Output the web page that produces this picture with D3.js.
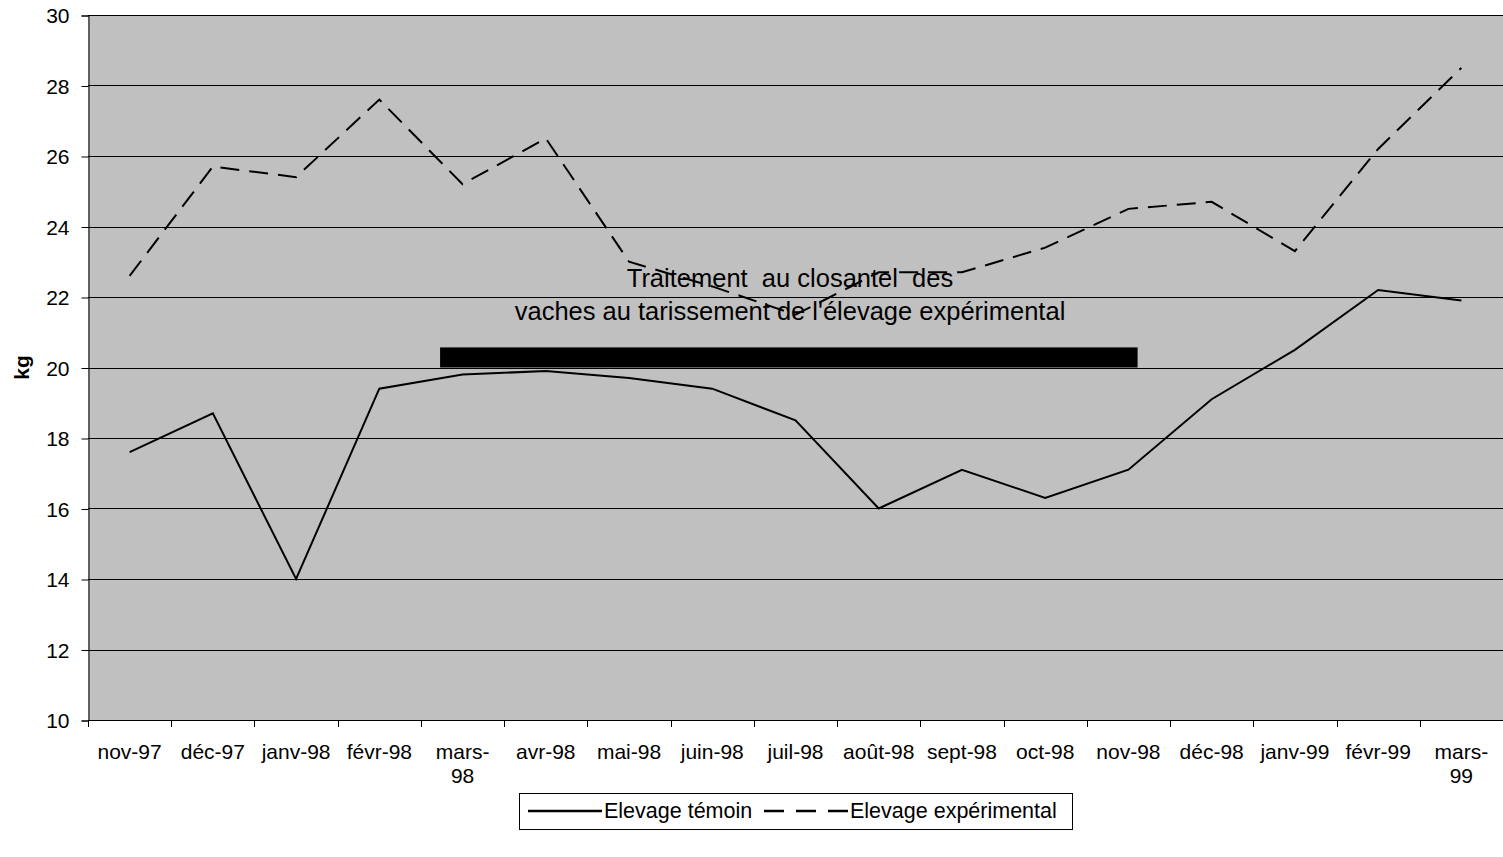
<!DOCTYPE html>
<html>
<head>
<meta charset="UTF-8">
<title>Elevage kg</title>
<script src="https://cdn.jsdelivr.net/npm/d3@7"></script>
<style>
body { margin: 0; background: #fff; }
svg text { font-family: "Liberation Sans", Arial, sans-serif; fill: #000; white-space: pre; }
</style>
</head>
<body>
<div id="vis"></div>
<script>
// months (x categories)
var months = ["nov-97", "déc-97", "janv-98", "févr-98", "mars-98", "avr-98", "mai-98", "juin-98",
  "juil-98", "août-98", "sept-98", "oct-98", "nov-98", "déc-98", "janv-99", "févr-99", "mars-99"];
// labels as excel wrapped them
var monthLabels = [["nov-97"], ["déc-97"], ["janv-98"], ["févr-98"], ["mars-", "98"], ["avr-98"], ["mai-98"], ["juin-98"],
  ["juil-98"], ["août-98"], ["sept-98"], ["oct-98"], ["nov-98"], ["déc-98"], ["janv-99"], ["févr-99"], ["mars-", "99"]];

var temoin = [17.6, 18.7, 14.0, 19.4, 19.8, 19.9, 19.7, 19.4, 18.5, 16.0, 17.1, 16.3, 17.1, 19.1, 20.5, 22.2, 21.9];
var experimental = [22.6, 25.7, 25.4, 27.6, 25.2, 26.5, 23.0, 22.3, 21.5, 22.7, 22.7, 23.4, 24.5, 24.7, 23.3, 26.2, 28.5];

var yTicks = [10, 12, 14, 16, 18, 20, 22, 24, 26, 28, 30];

// treatment period bar (in band units from the first month, and kg)
var treatFrom = 4.23, treatTo = 12.61;
var treatLow = 20, treatHigh = 20.57;
var treatText = ["Traitement  au closantel  des", "vaches au tarissement de l'élevage expérimental"];

var W = 1503, H = 857;
var margin = {top: 15, left: 88, right: 0, bottom: 137};

var svg = d3.select("#vis").append("svg")
  .attr("width", W)
  .attr("height", H);

var x = d3.scaleBand().domain(months).range([margin.left, W - margin.right]).padding(0);
var y = d3.scaleLinear().domain([10, 30]).range([H - margin.bottom, margin.top]);

// plot background
svg.append("rect")
  .attr("x", margin.left)
  .attr("y", y(30))
  .attr("width", W - margin.left)
  .attr("height", y(10) - y(30))
  .attr("fill", "#c0c0c0");

// gridlines
svg.selectAll(".grid")
  .data(yTicks.filter(function(d) { return d > 10; }))
  .enter().append("line")
  .attr("x1", margin.left)
  .attr("x2", W)
  .attr("y1", function(d) { return Math.round(y(d)) + 0.5; })
  .attr("y2", function(d) { return Math.round(y(d)) + 0.5; })
  .attr("stroke", "#000")
  .attr("stroke-width", 1);

// y axis
var yAxis = d3.axisLeft(y).tickValues(yTicks).tickSize(7).tickPadding(12);
var gy = svg.append("g")
  .attr("transform", "translate(" + (margin.left + 0.5) + ",0.5)")
  .call(yAxis);
gy.selectAll("text").style("font-size", "21px").style("font-family", null).attr("dy", "0.35em");
gy.select(".domain").attr("stroke", "#000");

// x axis (ticks at band edges)
svg.append("line")
  .attr("x1", margin.left).attr("x2", W)
  .attr("y1", y(10) + 0.5).attr("y2", y(10) + 0.5)
  .attr("stroke", "#000");

var edges = months.map(function(m) { return x(m); });
svg.selectAll(".xtick")
  .data(edges)
  .enter().append("line")
  .attr("x1", function(d) { return Math.round(d) + 0.5; })
  .attr("x2", function(d) { return Math.round(d) + 0.5; })
  .attr("y1", y(10))
  .attr("y2", y(10) + 7)
  .attr("stroke", "#000");

var xl = svg.selectAll(".xlab")
  .data(months)
  .enter().append("text")
  .attr("text-anchor", "middle")
  .style("font-size", "21px")
  .attr("x", function(d) { return x(d) + x.bandwidth() / 2; })
  .attr("y", 759);
xl.each(function(d, i) {
  var t = d3.select(this);
  monthLabels[i].forEach(function(s, k) {
    t.append("tspan")
      .attr("x", x(d) + x.bandwidth() / 2)
      .attr("dy", k === 0 ? 0 : 24)
      .text(s);
  });
});

// y axis title
svg.append("text")
  .attr("transform", "translate(29," + y(20) + ") rotate(-90)")
  .attr("text-anchor", "middle")
  .style("font-size", "21px")
  .style("font-weight", "bold")
  .text("kg");

// lines
var line = d3.line()
  .x(function(d, i) { return x(months[i]) + x.bandwidth() / 2; })
  .y(function(d) { return y(d); });

svg.append("path")
  .datum(temoin)
  .attr("d", line)
  .attr("fill", "none")
  .attr("stroke", "#000")
  .attr("stroke-width", 2);

svg.append("path")
  .datum(experimental)
  .attr("d", line)
  .attr("fill", "none")
  .attr("stroke", "#000")
  .attr("stroke-width", 2)
  .attr("stroke-dasharray", "19,10");

// treatment bar
svg.append("rect")
  .attr("x", margin.left + treatFrom * x.bandwidth())
  .attr("width", (treatTo - treatFrom) * x.bandwidth())
  .attr("y", y(treatHigh))
  .attr("height", y(treatLow) - y(treatHigh))
  .attr("fill", "#000");

svg.append("text")
  .attr("text-anchor", "middle")
  .style("font-size", "25.5px")
  .selectAll("tspan")
  .data(treatText)
  .enter().append("tspan")
  .attr("x", 790)
  .attr("y", function(d, i) { return 287 + i * 33; })
  .text(function(d) { return d; });

// legend
var leg = svg.append("g");
leg.append("rect")
  .attr("x", 519.5).attr("y", 793.5)
  .attr("width", 553).attr("height", 36)
  .attr("fill", "#fff")
  .attr("stroke", "#000");

var legItems = [
  {name: "Elevage témoin", dash: null, x1: 528, x2: 602},
  {name: "Elevage expérimental", dash: "20,12", x1: 764, x2: 848}
];
legItems.forEach(function(it) {
  leg.append("line")
    .attr("x1", it.x1).attr("x2", it.x2)
    .attr("y1", 811).attr("y2", 811)
    .attr("stroke", "#000")
    .attr("stroke-width", 2.5)
    .attr("stroke-dasharray", it.dash);
  leg.append("text")
    .attr("x", it.x2 + 2)
    .attr("y", 818)
    .style("font-size", "21.5px")
    .text(it.name);
});
</script>
</body>
</html>
